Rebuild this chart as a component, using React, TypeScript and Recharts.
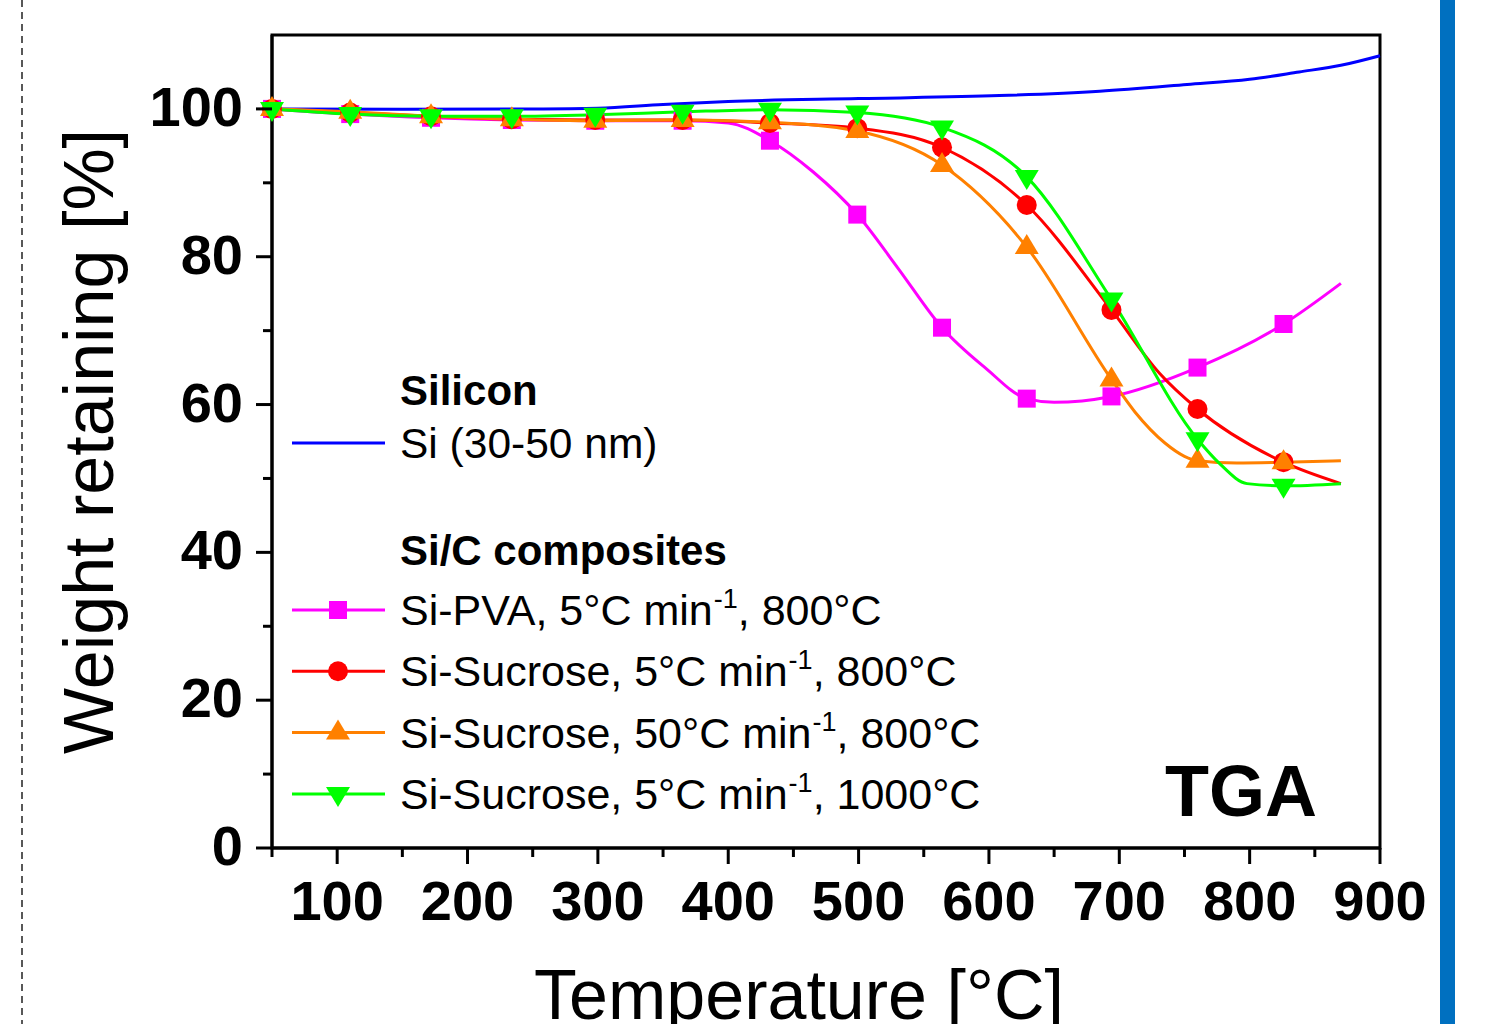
import { LineChart, Line, XAxis, YAxis, Legend, ReferenceArea } from 'recharts';

// temperatures where the symbols sit (°C)
const markerT = [50, 110, 172, 234, 298, 365, 432, 499, 564, 629, 694, 760, 826];

// Si-PVA, 5°C/min, 800°C
const pvaW = [100, 99.3, 98.8, 98.5, 98.4, 98.4, 95.7, 85.7, 70.4, 60.8, 61.1, 65.0, 70.9];
const pvaExtraT = [400, 465, 530, 597, 650, 870];
const pvaExtraW = [98.1, 91.5, 78.5, 65.0, 60.3, 76.4];

// Si-Sucrose, 5°C/min, 800°C
const suc5W = [100, 99.5, 99.0, 98.6, 98.5, 98.5, 98.1, 97.4, 94.8, 87.0, 72.8, 59.4, 52.2];
const suc5ExtraT = [731, 870];
const suc5ExtraW = [64.2, 49.3];

// Si-Sucrose, 50°C/min, 800°C
const suc50W = [100, 99.6, 99.0, 98.6, 98.4, 98.5, 98.2, 97.0, 92.4, 81.3, 63.4, 52.4, 52.2];
const suc50ExtraT = [712, 735, 750, 790, 870];
const suc50ExtraW = [59.0, 54.8, 53.0, 52.1, 52.4];

// Si-Sucrose, 5°C/min, 1000°C
const suc1000W = [100, 99.3, 99.0, 99.0, 99.2, 99.6, 99.9, 99.5, 97.5, 90.8, 74.2, 55.3, 49.0];
const suc1000ExtraT = [777, 798, 870];
const suc1000ExtraW = [52.0, 49.3, 49.3];

// bare silicon, no symbols
const siT = [50, 150, 250, 300, 350, 400, 500, 608, 685, 752, 800, 838, 870, 900];
const siW = [100, 99.95, 100, 100.1, 100.6, 101.0, 101.4, 101.8, 102.4, 103.3, 104.0, 105.0, 105.9, 107.2];

const xTicks = [50, 100, 150, 200, 250, 300, 350, 400, 450, 500, 550, 600, 650, 700, 750, 800, 850, 900];
const yTicks = [0, 10, 20, 30, 40, 50, 60, 70, 80, 90, 100];

const FONT = '"Liberation Sans", Arial, Helvetica, sans-serif';

type Pt = { t: number; w: number; m: boolean };

const buildSeries = (vals: number[], exT: number[], exW: number[]): Pt[] => {
  const pts: Pt[] = markerT.map((t, i) => ({ t, w: vals[i], m: true }));
  exT.forEach((t, i) => pts.push({ t, w: exW[i], m: false }));
  return pts.sort((a, b) => a.t - b.t);
};

const pvaData = buildSeries(pvaW, pvaExtraT, pvaExtraW);
const suc5Data = buildSeries(suc5W, suc5ExtraT, suc5ExtraW);
const suc50Data = buildSeries(suc50W, suc50ExtraT, suc50ExtraW);
const suc1000Data = buildSeries(suc1000W, suc1000ExtraT, suc1000ExtraW);
const siData = siT.map((t, i) => ({ t, w: siW[i] }));

type Shape = 'square' | 'circle' | 'up' | 'down';

const Marker = ({ cx, cy, shape, color }: { cx: number; cy: number; shape: Shape; color: string }) => {
  if (shape === 'square') return <rect x={cx - 9} y={cy - 9} width={18} height={18} fill={color} />;
  if (shape === 'circle') return <circle cx={cx} cy={cy} r={10} fill={color} />;
  if (shape === 'up')
    return <polygon points={`${cx},${cy - 13} ${cx - 12},${cy + 7} ${cx + 12},${cy + 7}`} fill={color} />;
  return <polygon points={`${cx - 12},${cy - 7} ${cx + 12},${cy - 7} ${cx},${cy + 13}`} fill={color} />;
};

const makeDot = (shape: Shape, color: string, name: string) => (props: any) => {
  const { cx, cy, payload, index } = props;
  if (!payload?.m || cx == null || cy == null) return <g key={`${name}-${index}`} />;
  return (
    <g key={`${name}-${index}`}>
      <Marker cx={cx} cy={cy} shape={shape} color={color} />
    </g>
  );
};

const XTick = ({ x, y, payload }: any) => {
  const v = payload.value;
  const major = v % 100 === 0;
  return (
    <g>
      <line x1={x} x2={x} y1={y} y2={y + (major ? 16 : 9)} stroke="#000" strokeWidth={3} />
      {major && (
        <text x={x} y={y + 72} textAnchor="middle" fontSize={56} fontWeight="bold" fontFamily={FONT} fill="#000">
          {v}
        </text>
      )}
    </g>
  );
};

const YTick = ({ x, y, payload }: any) => {
  const v = payload.value;
  const major = v % 20 === 0;
  return (
    <g>
      <line x1={x - (major ? 16 : 9)} x2={x} y1={y} y2={y} stroke="#000" strokeWidth={3} />
      {major && (
        <text x={x - 29} y={y + 17} textAnchor="end" fontSize={56} fontWeight="bold" fontFamily={FONT} fill="#000">
          {v}
        </text>
      )}
    </g>
  );
};

const entries: { label: string; rate: string; temp: string; color: string; shape: Shape }[] = [
  { label: 'Si-PVA, ', rate: '5°C min', temp: ', 800°C', color: '#ff00ff', shape: 'square' },
  { label: 'Si-Sucrose, ', rate: '5°C min', temp: ', 800°C', color: '#ff0000', shape: 'circle' },
  { label: 'Si-Sucrose, ', rate: '50°C min', temp: ', 800°C', color: '#ff8000', shape: 'up' },
  { label: 'Si-Sucrose, ', rate: '5°C min', temp: ', 1000°C', color: '#00ff00', shape: 'down' },
];

const LegendBox = () => (
  <svg width={720} height={470} style={{ fontFamily: FONT }}>
    <text x={120} y={45} fontSize={42} fontWeight="bold" fill="#000">Silicon</text>
    <line x1={12} x2={105} y1={83} y2={83} stroke="#0000ff" strokeWidth={3} />
    <text x={120} y={98} fontSize={42.5} fill="#000">Si (30-50 nm)</text>
    <text x={120} y={205} fontSize={42} fontWeight="bold" fill="#000">Si/C composites</text>
    {entries.map((e, i) => {
      const cy = 250 + i * 61.3;
      return (
        <g key={i}>
          <line x1={12} x2={105} y1={cy} y2={cy} stroke={e.color} strokeWidth={3} />
          <Marker cx={58} cy={cy} shape={e.shape} color={e.color} />
          <text x={120} y={cy + 15} fontSize={43} fill="#000">
            {e.label}
            {e.rate}
            <tspan fontSize={27} dy={-17} dx={1}>-1</tspan>
            <tspan dy={17}>{e.temp}</tspan>
          </text>
        </g>
      );
    })}
  </svg>
);

export default function App() {
  return (
    <div style={{ position: 'absolute', left: 0, top: 0, width: 1491, height: 1024, background: '#fff', overflow: 'hidden', fontFamily: FONT }}>
      <svg width={1491} height={1024} style={{ position: 'absolute', left: 0, top: 0 }}>
        <line x1={22} x2={22} y1={0} y2={1024} stroke="#222" strokeWidth={1.5} strokeDasharray="7 5" />
        <rect x={1440} y={0} width={15} height={1024} fill="#0070c0" />
      </svg>
      <div style={{ position: 'absolute', left: 0, top: 0 }}>
        <LineChart width={1491} height={1024} margin={{ top: 35, right: 111, bottom: 36, left: 112 }}>
          <XAxis
            dataKey="t"
            type="number"
            domain={[50, 900]}
            ticks={xTicks}
            interval={0}
            height={140}
            tickSize={0}
            tickMargin={0}
            tick={<XTick />}
            axisLine={{ stroke: '#000', strokeWidth: 3 }}
            label={{
              content: ({ viewBox }: any) => (
                <text x={viewBox.x + viewBox.width / 2 - 27} y={viewBox.y + 171} textAnchor="middle" fontSize={70} fontFamily={FONT} fill="#000">
                  Temperature [°C]
                </text>
              ),
            }}
          />
          <YAxis
            type="number"
            domain={[0, 110]}
            ticks={yTicks}
            interval={0}
            width={160}
            tickSize={0}
            tickMargin={0}
            tick={<YTick />}
            axisLine={{ stroke: '#000', strokeWidth: 3 }}
            label={{
              content: ({ viewBox }: any) => {
                const x = viewBox.x + 1;
                const y = viewBox.y + viewBox.height / 2;
                return (
                  <text x={x} y={y} transform={`rotate(-90, ${x}, ${y})`} textAnchor="middle" fontSize={70} fontFamily={FONT} fill="#000">
                    Weight retaining [%]
                  </text>
                );
              },
            }}
          />
          <ReferenceArea
            x1={50}
            x2={900}
            y1={0}
            y2={110}
            fill="none"
            fillOpacity={0}
            stroke="#000"
            strokeWidth={3}
            label={{
              content: ({ viewBox }: any) => (
                <text x={viewBox.x + viewBox.width - 215} y={viewBox.y + viewBox.height - 32} fontSize={72} fontWeight="bold" fontFamily={FONT} fill="#000">
                  TGA
                </text>
              ),
            }}
          />
          <Line data={siData} dataKey="w" type="monotone" stroke="#0000ff" strokeWidth={3} dot={false} isAnimationActive={false} name="Si (30-50 nm)" />
          <Line data={pvaData} dataKey="w" type="monotone" stroke="#ff00ff" strokeWidth={3} dot={makeDot('square', '#ff00ff', 'pva')} isAnimationActive={false} name="Si-PVA" />
          <Line data={suc5Data} dataKey="w" type="monotone" stroke="#ff0000" strokeWidth={3} dot={makeDot('circle', '#ff0000', 's5')} isAnimationActive={false} name="Si-Sucrose 5" />
          <Line data={suc50Data} dataKey="w" type="monotone" stroke="#ff8000" strokeWidth={3} dot={makeDot('up', '#ff8000', 's50')} isAnimationActive={false} name="Si-Sucrose 50" />
          <Line data={suc1000Data} dataKey="w" type="monotone" stroke="#00ff00" strokeWidth={3} dot={makeDot('down', '#00ff00', 's1000')} isAnimationActive={false} name="Si-Sucrose 1000" />
          <Legend
            layout="vertical"
            align="center"
            verticalAlign="middle"
            content={() => <LegendBox />}
            wrapperStyle={{ position: 'absolute', left: 280, top: 360, width: 720, height: 470 }}
          />
        </LineChart>
      </div>
    </div>
  );
}
